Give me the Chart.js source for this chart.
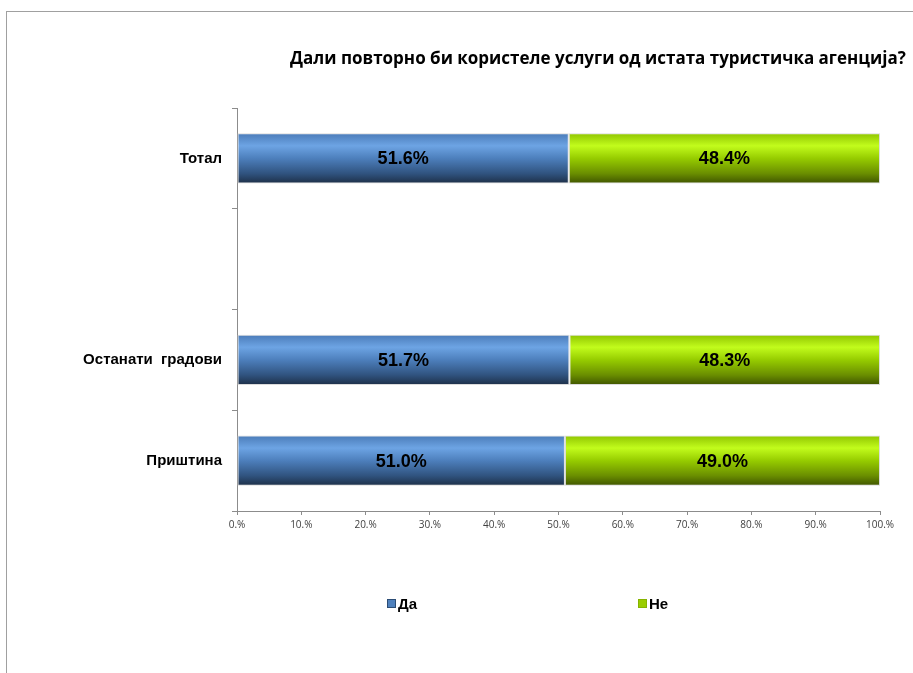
<html>

<head>
    <script src="https://cdn.jsdelivr.net/npm/chart.js@4.4.0/dist/chart.umd.min.js"></script>
    <style>
        body {
            margin: 0;
            background: #ffffff;
        }

        .wrap {
            position: relative;
            width: 913px;
            height: 673px;
            overflow: hidden;
        }

        .frame {
            position: absolute;
            left: 6px;
            top: 11px;
            width: 920px;
            height: 680px;
            border-left: 1px solid #a0a0a0;
            border-top: 1px solid #a0a0a0;
        }

        .title {
            position: absolute;
            left: 290px;
            width: 640px;
            top: 46px;
            font: bold 17px 'Open Sans', sans-serif;
            color: #000;
            white-space: nowrap;
        }

        .legend-item {
            position: absolute;
            top: 595px;
            font: bold 15px 'Liberation Sans', Arial, sans-serif;
            color: #000;
            line-height: 18px;
        }

        .legend-box {
            display: inline-block;
            width: 7px;
            height: 7px;
            margin-right: 2px;
            vertical-align: 1px;
        }

        #chart {
            position: absolute;
            left: 0;
            top: 0;
        }
    </style>
</head>

<body>
    <div class="wrap">
        <div class="frame"></div>
        <canvas id="chart" width="913" height="673"></canvas>
        <div class="title">Дали повторно би користеле услуги од истата туристичка агенција?</div>
        <div id="legend"></div>
    </div>
</body>
<script>
    const categories = ['Тотал', '', 'Останати  градови', 'Приштина'];
    const seriesNames = ['Да', 'Не'];
    const daValues = [51.6, null, 51.7, 51.0];
    const neValues = [48.4, null, 48.3, 49.0];

    // bar shading, top to bottom
    const blueStops = [[0, '#4a7bb8'], [0.25, '#6da4e4'], [0.5, '#4d7fbc'], [0.8, '#30537f'], [1, '#1d2f47']];
    const greenStops = [[0, '#8fc400'], [0.25, '#c2fc1c'], [0.5, '#96cc00'], [0.8, '#6a8e00'], [1, '#3f5400']];
    const legendColors = ['#4f81bd', '#9acd00'];
    const legendBorders = ['#2c4d75', '#86b300'];
    const legendLeft = [387, 638];

    const barPercent = 0.5;

    function barFill(stops) {
        return function (ctx) {
            const chart = ctx.chart;
            const area = chart.chartArea;
            if (!area || !chart.scales.y) {
                return stops[2][1];
            }
            const center = chart.scales.y.getPixelForValue(ctx.dataIndex);
            const half = (area.bottom - area.top) / chart.data.labels.length * barPercent / 2;
            const g = chart.ctx.createLinearGradient(0, center - half, 0, center + half);
            stops.forEach(s => g.addColorStop(s[0], s[1]));
            return g;
        };
    }

    // value written in the middle of every bar segment
    const barValues = {
        id: 'barValues',
        afterDatasetsDraw(chart) {
            const ctx = chart.ctx;
            ctx.save();
            ctx.font = "bold 18px 'Liberation Sans', Arial, sans-serif";
            ctx.fillStyle = '#000';
            ctx.textAlign = 'center';
            ctx.textBaseline = 'middle';
            chart.data.datasets.forEach((ds, i) => {
                chart.getDatasetMeta(i).data.forEach((bar, j) => {
                    const v = ds.data[j];
                    if (v === null) return;
                    const p = bar.getCenterPoint();
                    ctx.fillText(v.toFixed(1) + '%', p.x, p.y + 1);
                });
            });
            ctx.restore();
        }
    };

    new Chart(document.getElementById('chart'), {
        type: 'bar',
        data: {
            labels: categories,
            datasets: [{
                label: seriesNames[0],
                data: daValues,
                backgroundColor: barFill(blueStops),
                borderColor: 'rgba(215,215,215,0.9)',
                borderWidth: 1,
                borderSkipped: false
            }, {
                label: seriesNames[1],
                data: neValues,
                backgroundColor: barFill(greenStops),
                borderColor: 'rgba(215,215,215,0.9)',
                borderWidth: 1,
                borderSkipped: false
            }]
        },
        plugins: [barValues],
        options: {
            indexAxis: 'y',
            responsive: false,
            animation: false,
            barPercentage: barPercent,
            categoryPercentage: 1,
            layout: {
                padding: { left: 0, right: 33, top: 108, bottom: 132 }
            },
            plugins: {
                legend: { display: false },
                title: { display: false },
                tooltip: { enabled: false }
            },
            scales: {
                x: {
                    stacked: true,
                    min: 0,
                    max: 100,
                    afterFit(scale) { scale.height = 30; },
                    ticks: {
                        stepSize: 10,
                        padding: 4,
                        color: '#404040',
                        font: { family: "'Open Sans', sans-serif", size: 10 },
                        callback: v => v + '.%'
                    },
                    grid: { drawOnChartArea: false, drawTicks: true, tickLength: 4, color: '#8c8c8c' },
                    border: { color: '#8c8c8c' }
                },
                y: {
                    stacked: true,
                    afterFit(scale) { scale.width = 237; },
                    ticks: {
                        padding: 10,
                        color: '#000',
                        font: { family: "'Liberation Sans', Arial, sans-serif", size: 15, weight: 'bold' }
                    },
                    grid: { offset: true, drawOnChartArea: false, drawTicks: true, tickLength: 5, color: '#8c8c8c' },
                    border: { color: '#8c8c8c' }
                }
            }
        }
    });

    const legend = document.getElementById('legend');
    seriesNames.forEach((name, i) => {
        const item = document.createElement('div');
        item.className = 'legend-item';
        item.style.left = legendLeft[i] + 'px';
        item.innerHTML = '<span class="legend-box" style="background:' + legendColors[i] +
            ';border:1px solid ' + legendBorders[i] + '"></span>' + name;
        legend.appendChild(item);
    });
</script>

</html>
